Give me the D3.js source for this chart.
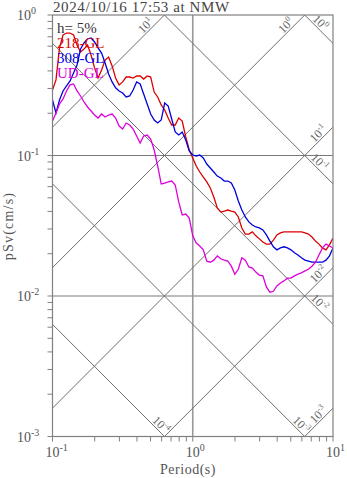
<!DOCTYPE html>
<html>
<head>
<meta charset="utf-8">
<script src="https://cdn.jsdelivr.net/npm/d3@7"></script>
<style>
  body { margin: 0; background: #fff; }
  svg { display: block; font-family: "Liberation Serif", "DejaVu Serif", serif; }
</style>
</head>
<body>
<script>
// Perioden (s)
let periods = [
  0.1, 0.1059, 0.1122, 0.1189, 0.1259, 0.1334, 0.1413, 0.1496, 0.1585, 0.1679,
  0.1778, 0.1884, 0.1995, 0.2113, 0.2239, 0.2371, 0.2512, 0.2661, 0.2818, 0.2985,
  0.3162, 0.3350, 0.3548, 0.3758, 0.3981, 0.4217, 0.4467, 0.4732, 0.5012, 0.5309,
  0.5623, 0.5957, 0.6310, 0.6683, 0.7079, 0.7499, 0.7943, 0.8414, 0.8913, 0.9441,
  1.0, 1.059, 1.122, 1.189, 1.259, 1.334, 1.413, 1.496, 1.585, 1.679,
  1.778, 1.884, 1.995, 2.113, 2.239, 2.371, 2.512, 2.661, 2.818, 2.985,
  3.162, 3.350, 3.548, 3.758, 3.981, 4.217, 4.467, 4.732, 5.012, 5.309,
  5.623, 5.957, 6.310, 6.683, 7.079, 7.499, 7.943, 8.414, 8.913, 9.441,
  10.0
];

// pSv (cm/s) je Komponente
let sv218 = [
  0.2926, 0.345, 0.583, 0.721, 0.744, 0.744, 0.721, 0.612, 0.545, 0.573,
  0.612, 0.519, 0.420, 0.356, 0.406, 0.478, 0.502, 0.434, 0.356, 0.318,
  0.334, 0.362, 0.362, 0.356, 0.368, 0.368, 0.350, 0.368, 0.362, 0.283,
  0.261, 0.2288, 0.2108, 0.1849, 0.1648, 0.1648, 0.1849, 0.1760, 0.1354, 0.1094,
  0.0960, 0.0842, 0.0763, 0.0703, 0.0648, 0.0587, 0.0507, 0.0423, 0.0396, 0.0402,
  0.0409, 0.0402, 0.0396, 0.0365, 0.0305, 0.0276, 0.0276, 0.0286, 0.0268, 0.0255,
  0.0242, 0.0234, 0.0234, 0.0250, 0.0272, 0.0281, 0.0286, 0.0286, 0.0286, 0.0286,
  0.0286, 0.0286, 0.0281, 0.0276, 0.0263, 0.0246, 0.0234, 0.0220, 0.0213, 0.0231,
  0.0259
];

let sv308 = [
  0.2483, 0.2007, 0.2483, 0.2879, 0.3128, 0.3394, 0.3865, 0.441, 0.573, 0.632,
  0.675, 0.686, 0.643, 0.583, 0.536, 0.455, 0.380, 0.334, 0.303, 0.2879,
  0.2786, 0.261, 0.2653, 0.2926, 0.334, 0.323, 0.2741, 0.2326, 0.1974, 0.1789,
  0.1703, 0.1789, 0.2364, 0.2251, 0.1819, 0.1470, 0.1399, 0.1470, 0.1289, 0.1076,
  0.1008, 0.0992, 0.1008, 0.0960, 0.0870, 0.0815, 0.0763, 0.0714, 0.0691, 0.0658,
  0.0658, 0.0637, 0.0568, 0.0474, 0.0409, 0.0365, 0.0337, 0.0320, 0.0310, 0.0305,
  0.0295, 0.0272, 0.0246, 0.0224, 0.0213, 0.0220, 0.0224, 0.0220, 0.0213, 0.0203,
  0.0196, 0.0187, 0.0180, 0.0177, 0.0174, 0.0174, 0.0174, 0.0174, 0.0180, 0.0193,
  0.0220
];

let svUD = [
  0.1760, 0.2007, 0.2326, 0.2525, 0.2879, 0.318, 0.323, 0.2879, 0.2652, 0.2404,
  0.2215, 0.2074, 0.1942, 0.1849, 0.1974, 0.1880, 0.1942, 0.1974, 0.1849, 0.1621,
  0.1544, 0.1703, 0.1648, 0.1544, 0.1377, 0.1227, 0.1377, 0.1399, 0.1310, 0.1094,
  0.0842, 0.0627, 0.0637, 0.0648, 0.0658, 0.0617, 0.0467, 0.0377, 0.0383, 0.0359,
  0.0268, 0.0238, 0.0227, 0.0213, 0.0177, 0.0174, 0.0180, 0.0193, 0.0184, 0.0180,
  0.0177, 0.0163, 0.0143, 0.0155, 0.0187, 0.0180, 0.0161, 0.0158, 0.0148, 0.0141,
  0.0139, 0.0116, 0.01065, 0.0108, 0.0118, 0.01238, 0.0128, 0.0134, 0.0134, 0.0139,
  0.0143, 0.0146, 0.0151, 0.0155, 0.0163, 0.0174, 0.0196, 0.0220, 0.0234, 0.0227,
  0.0220
];

let seriesNames = ["218-GL", "308-GL", "UD-GL"];
let seriesColors = ["#dd0000", "#0000dd", "#dd00dd"];
let titleText = "2024/10/16 17:53 at NMW";
let dampingText = "h= 5%";

// Achsenbeschriftungen (Exponenten)
let xTicks = [0.1, 1, 10];
let xTickExp = ["-1", "0", "1"];
let yTicks = [0.001, 0.01, 0.1, 1];
let yTickExp = ["-3", "-2", "-1", "0"];

// Diagonalen: Beschleunigung und Verschiebung
let accelLevels = [10, 1, 0.1, 0.01, 0.001];
let accelExp = ["1", "0", "-1", "-2", "-3"];
let dispLevels = [1, 0.1, 0.01, 0.001, 0.0001];
let dispExp = ["0", "-1", "-2", "-3", "-4"];

let width = 347;
let height = 478;
let pLeft = 52.5, pRight = 333, pTop = 15, pBottom = 436.5;

let svg = d3.select("body").append("svg")
  .attr("width", width)
  .attr("height", height);

let x = d3.scaleLog().domain([0.1, 10]).range([pLeft, pRight]);
let y = d3.scaleLog().domain([0.001, 1]).range([pBottom, pTop]);

svg.append("clipPath").attr("id", "plotclip")
  .append("rect")
  .attr("x", pLeft).attr("y", pTop)
  .attr("width", pRight - pLeft).attr("height", pBottom - pTop);

let plot = svg.append("g").attr("clip-path", "url(#plotclip)");

// Gitterlinien
plot.selectAll(".hgrid")
  .data([0.01, 0.1])
  .enter()
  .append("line")
  .attr("x1", pLeft).attr("x2", pRight)
  .attr("y1", (d) => y(d)).attr("y2", (d) => y(d))
  .style("stroke", "#7a7a7a")
  .style("stroke-width", 1.2);

plot.append("line")
  .attr("x1", x(1)).attr("x2", x(1))
  .attr("y1", pTop).attr("y2", pBottom)
  .style("stroke", "#999")
  .style("stroke-width", 1.6);

// Beschleunigungslinien: Sv = A*T/(2pi)
let twoPi = 2 * Math.PI;
let diag = d3.line().x((d) => x(d[0])).y((d) => y(d[1]));

accelLevels.forEach((a) => {
  plot.append("path")
    .attr("d", diag([[0.01, a * 0.01 / twoPi], [100, a * 100 / twoPi]]))
    .style("fill", "none")
    .style("stroke", "#6e6e6e")
    .style("stroke-width", 1);
});

// Verschiebungslinien: Sv = 2pi*D/T
dispLevels.forEach((dd) => {
  plot.append("path")
    .attr("d", diag([[0.01, twoPi * dd / 0.01], [100, twoPi * dd / 100]]))
    .style("fill", "none")
    .style("stroke", "#6e6e6e")
    .style("stroke-width", 1);
});

// Beschriftung der Diagonalen
function diagLabel(px, py, angle, exp) {
  let t = svg.append("text")
    .attr("transform", "translate(" + px + "," + py + ") rotate(" + angle + ")")
    .attr("text-anchor", "end")
    .attr("dy", -2)
    .style("font-size", "12px")
    .style("fill", "#666");
  t.append("tspan").text("10");
  t.append("tspan").attr("dy", -5).style("font-size", "8px").text(exp);
}

accelLevels.forEach((a, i) => {
  let tTop = twoPi / a;
  if (tTop <= 10) {
    diagLabel(x(tTop) - 9, y(1) + 9, -45, accelExp[i]);
  } else {
    let ey = y(a * 10 / twoPi);
    diagLabel(pRight - 4, ey + 4, -45, accelExp[i]);
  }
});

dispLevels.forEach((dd, i) => {
  let svRight = twoPi * dd / 10;
  if (svRight >= 0.001) {
    let ey = y(svRight);
    diagLabel(pRight - 11, ey - 11, 45, dispExp[i]);
  } else {
    let tBot = twoPi * dd / 0.001;
    diagLabel(x(tBot) - 1, pBottom - 1, 45, dispExp[i]);
  }
});

// Spektren zeichnen
let allSeries = [sv218, sv308, svUD];
let specLine = d3.line()
  .x((d, i) => x(periods[i]))
  .y((d) => y(d));

allSeries.forEach((s, i) => {
  plot.append("path")
    .attr("d", specLine(s))
    .style("fill", "none")
    .style("stroke", seriesColors[i])
    .style("stroke-width", 1.3);
});

// Rahmen
svg.append("rect")
  .attr("x", pLeft).attr("y", pTop)
  .attr("width", pRight - pLeft).attr("height", pBottom - pTop)
  .style("fill", "none")
  .style("stroke", "#808080")
  .style("stroke-width", 1.2);

// Teilstriche
let minorVals = [];
[0.001, 0.01, 0.1].forEach((dec) => {
  for (let m = 1; m <= 9; m++) minorVals.push(dec * m);
});
minorVals.push(1);

svg.selectAll(".ytick")
  .data(minorVals)
  .enter()
  .append("line")
  .attr("x1", pLeft - 5).attr("x2", pLeft)
  .attr("y1", (d) => y(d)).attr("y2", (d) => y(d))
  .style("stroke", "#808080");

let xMinor = [];
[0.1, 1].forEach((dec) => {
  for (let m = 1; m <= 9; m++) xMinor.push(dec * m);
});
xMinor.push(10);

svg.selectAll(".xtick")
  .data(xMinor)
  .enter()
  .append("line")
  .attr("x1", (d) => x(d)).attr("x2", (d) => x(d))
  .attr("y1", pBottom).attr("y2", pBottom + 5)
  .style("stroke", "#808080");

// Achsenbeschriftung
xTicks.forEach((v, i) => {
  let t = svg.append("text")
    .attr("x", x(v) - 7)
    .attr("y", 457)
    .style("font-size", "14px")
    .style("fill", "#555");
  t.append("tspan").text("10");
  t.append("tspan").attr("dy", -6).style("font-size", "10px").text(xTickExp[i]);
});

yTicks.forEach((v, i) => {
  let t = svg.append("text")
    .attr("x", 17)
    .attr("y", y(v) + 5)
    .style("font-size", "14px")
    .style("fill", "#555");
  t.append("tspan").text("10");
  t.append("tspan").attr("dy", -6).style("font-size", "10px").text(yTickExp[i]);
});

svg.append("text")
  .attr("x", 188)
  .attr("y", 474)
  .attr("text-anchor", "middle")
  .style("font-size", "14px")
  .style("letter-spacing", "0.5px")
  .style("fill", "#555")
  .text("Period(s)");

svg.append("text")
  .attr("transform", "translate(13,226) rotate(-90)")
  .attr("text-anchor", "middle")
  .style("font-size", "14px")
  .style("letter-spacing", "1.2px")
  .style("fill", "#555")
  .text("pSv(cm/s)");

svg.append("text")
  .attr("x", 53)
  .attr("y", 11.5)
  .style("font-size", "15px")
  .style("letter-spacing", "0.6px")
  .style("fill", "#444")
  .text(titleText);

// Legende
svg.append("text")
  .attr("x", 57).attr("y", 33)
  .style("font-size", "15px")
  .style("fill", "#333")
  .text(dampingText);

seriesNames.forEach((n, i) => {
  svg.append("text")
    .attr("x", 57).attr("y", 48 + i * 15)
    .style("font-size", "15px")
    .style("fill", seriesColors[i])
    .text(n);
});
</script>
</body>
</html>
